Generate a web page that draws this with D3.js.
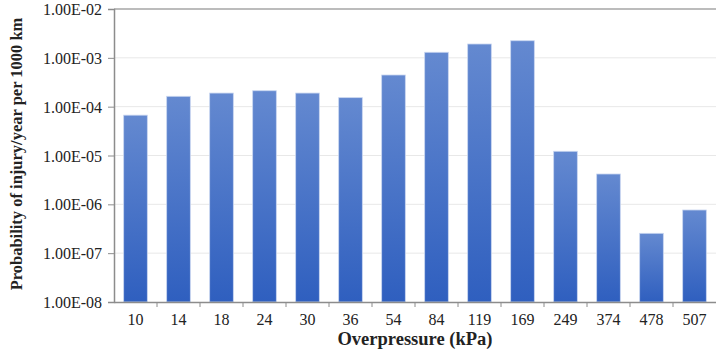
<!DOCTYPE html>
<html>
<head>
<meta charset="utf-8">
<script src="https://cdn.jsdelivr.net/npm/d3@7"></script>
<style>
  body { margin: 0; background: #fff; }
  text { font-family: "Liberation Serif", "Times New Roman", serif; fill: #222; }
</style>
</head>
<body>
<div id="chart"></div>
<script>
var categories = ['10', '14', '18', '24', '30', '36', '54', '84', '119', '169', '249', '374', '478', '507'];
var values = [6.7e-5, 1.63e-4, 1.9e-4, 2.12e-4, 1.9e-4, 1.53e-4, 4.45e-4, 1.3e-3, 1.92e-3, 2.24e-3, 1.22e-5, 4.18e-6, 2.55e-7, 7.66e-7];
var yTicks = [1e-8, 1e-7, 1e-6, 1e-5, 1e-4, 1e-3, 1e-2];

var margin = { top: 9, right: 0, bottom: 47, left: 114 },
  width = 716 - margin.left - margin.right,
  height = 349 - margin.top - margin.bottom;

var svg = d3.select("#chart")
  .append("svg")
  .attr("width", 716)
  .attr("height", 349);

var defs = svg.append("defs");
var grad = defs.append("linearGradient")
  .attr("id", "barGrad")
  .attr("x1", 0).attr("y1", 0).attr("x2", 0).attr("y2", 1);
grad.append("stop").attr("offset", "0%").attr("stop-color", "#6489d0");
grad.append("stop").attr("offset", "100%").attr("stop-color", "#2f5fbf");

var g = svg.append("g")
  .attr("transform", "translate(" + margin.left + "," + margin.top + ")");

var x = d3.scaleBand()
  .domain(categories)
  .range([0, width])
  .paddingInner(0.45)
  .paddingOuter(0.225);

var y = d3.scaleLog()
  .domain([1e-8, 1e-2])
  .range([height, 0]);

// gridlines
g.selectAll(".grid")
  .data(yTicks.slice(1, -1))
  .enter()
  .append("line")
  .attr("x1", 0)
  .attr("x2", width)
  .attr("y1", function (d) { return y(d); })
  .attr("y2", function (d) { return y(d); })
  .style("stroke", "#e8e8e8")
  .style("stroke-width", 1);

// top border line
g.append("line")
  .attr("x1", 0).attr("x2", width)
  .attr("y1", y(1e-2)).attr("y2", y(1e-2))
  .style("stroke", "#a6a6a6")
  .style("stroke-width", 1.5);

// bars
g.selectAll("rect.bar")
  .data(values)
  .enter()
  .append("rect")
  .attr("class", "bar")
  .attr("x", function (d, i) { return x(categories[i]); })
  .attr("y", function (d) { return y(d); })
  .attr("width", x.bandwidth())
  .attr("height", function (d) { return height - y(d); })
  .style("fill", "url(#barGrad)")
  .style("stroke", "#c9d6f0")
  .style("stroke-width", 0.8);

// y axis
var yAxis = g.append("g")
  .call(d3.axisLeft(y).tickValues(yTicks).tickSize(6).tickPadding(6)
    .tickFormat(function (d) { return d.toExponential(2).toUpperCase().replace(/E([+-])(\d)$/, "E$10$2"); }));
yAxis.select(".domain").style("stroke", "#8c8c8c").style("stroke-width", 1.5);
yAxis.selectAll(".tick line").style("stroke", "#8c8c8c");
yAxis.selectAll("text").style("font-size", "16px").attr("dy", "0.35em");

// x axis
var xAxis = g.append("g")
  .attr("transform", "translate(0," + height + ")")
  .call(d3.axisBottom(x).tickSize(0).tickPadding(12));
xAxis.select(".domain").style("stroke", "#8c8c8c").style("stroke-width", 1.5);
xAxis.selectAll("text").style("font-size", "16px");

// category boundary ticks
xAxis.selectAll(".sep")
  .data(categories.slice(1))
  .enter()
  .append("line")
  .attr("x1", function (d) { return x(d) - x.step() * x.paddingInner() / 2; })
  .attr("x2", function (d) { return x(d) - x.step() * x.paddingInner() / 2; })
  .attr("y1", 0)
  .attr("y2", 5)
  .style("stroke", "#8c8c8c");

// titles
svg.append("text")
  .attr("transform", "translate(22,154) rotate(-90)")
  .attr("text-anchor", "middle")
  .style("font-size", "16.5px")
  .style("font-weight", "bold")
  .text("Probability of injury/year per 1000 km");

svg.append("text")
  .attr("x", 415)
  .attr("y", 345)
  .attr("text-anchor", "middle")
  .style("font-size", "18.5px")
  .style("font-weight", "bold")
  .text("Overpressure (kPa)");
</script>
</body>
</html>
